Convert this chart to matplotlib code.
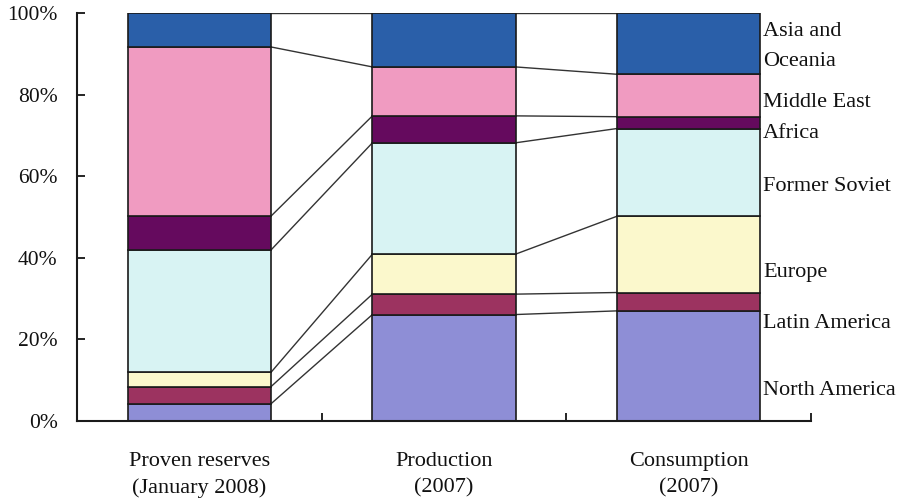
import numpy as np
import matplotlib
matplotlib.use("Agg")
import matplotlib.pyplot as plt

# share of world oil (%) by region, bottom to top
categories = ["Proven reserves\n(January 2008)", "Production\n(2007)", "Consumption\n(2007)"]
regions = ["North America", "Latin America", "Europe", "Former Soviet", "Africa", "Middle East", "Asia and\nOceania"]
north_america = [4.2, 26.1, 27.0]
latin_america = [4.2, 5.0, 4.5]
europe = [3.5, 9.8, 18.7]
former_soviet = [30.0, 27.3, 21.5]
africa = [8.3, 6.6, 2.9]
middle_east = [41.5, 12.0, 10.4]
asia_oceania = [8.3, 13.2, 15.0]

series = [north_america, latin_america, europe, former_soviet, africa, middle_east, asia_oceania]
colors = ["#8E8ED6", "#9C3360", "#FBF8CC", "#D8F3F3", "#650A5E", "#F09BC1", "#2A5FA9"]
# where the region names sit on the right (in %)
label_y = [7.6, 24.0, 36.5, 57.6, 70.6, 78.0, 91.8]

plt.rcParams["font.family"] = ["Liberation Serif", "DejaVu Serif"]
plt.rcParams["text.color"] = "#111111"

fig = plt.figure(figsize=(9.03, 5.03), dpi=100)
ax = fig.add_axes([0.0853, 0.163, 0.8127, 0.811])

x = np.arange(len(categories))
width = 0.585
bottom = np.zeros(len(categories))
for vals, col in zip(series, colors):
    ax.bar(x, vals, width, bottom=bottom, color=col, edgecolor="#1a1a1a", linewidth=1.2, zorder=2)
    bottom = bottom + np.array(vals)

# lines joining the segment boundaries of neighbouring bars
cum = np.vstack([np.zeros(len(categories)), np.cumsum(series, axis=0)])
for row in cum:
    for i in range(len(categories) - 1):
        ax.plot([x[i] + width / 2, x[i + 1] - width / 2], [row[i], row[i + 1]],
                color="#333333", linewidth=1.0, zorder=1)

for name, yy in zip(regions, label_y):
    ax.text(x[-1] + width / 2 + 0.012, yy, name, fontsize=16, va="center", ha="left",
            linespacing=1.85)

ax.set_xlim(-0.5, 2.5)
ax.set_ylim(0, 100)
ax.set_yticks([0, 20, 40, 60, 80, 100])
ax.set_yticklabels(["0%", "20%", "40%", "60%", "80%", "100%"])
ax.tick_params(axis="y", direction="in", length=6, width=1.2, pad=14, labelsize=15.5,
               labelcolor="#111111")

ax.set_xticks([0.5, 1.5, 2.5])
ax.set_xticklabels([])
ax.set_xticks(x, minor=True)
ax.set_xticklabels(categories, minor=True, linespacing=1.5)
ax.tick_params(axis="x", which="major", direction="in", length=6, width=1.2)
ax.tick_params(axis="x", which="minor", length=0, pad=22.5, labelsize=16, labelcolor="#111111")

for s in ["top", "right"]:
    ax.spines[s].set_visible(False)
for s in ["left", "bottom"]:
    ax.spines[s].set_linewidth(1.5)
    ax.spines[s].set_color("#1a1a1a")

fig.savefig("out.png", dpi=100)
